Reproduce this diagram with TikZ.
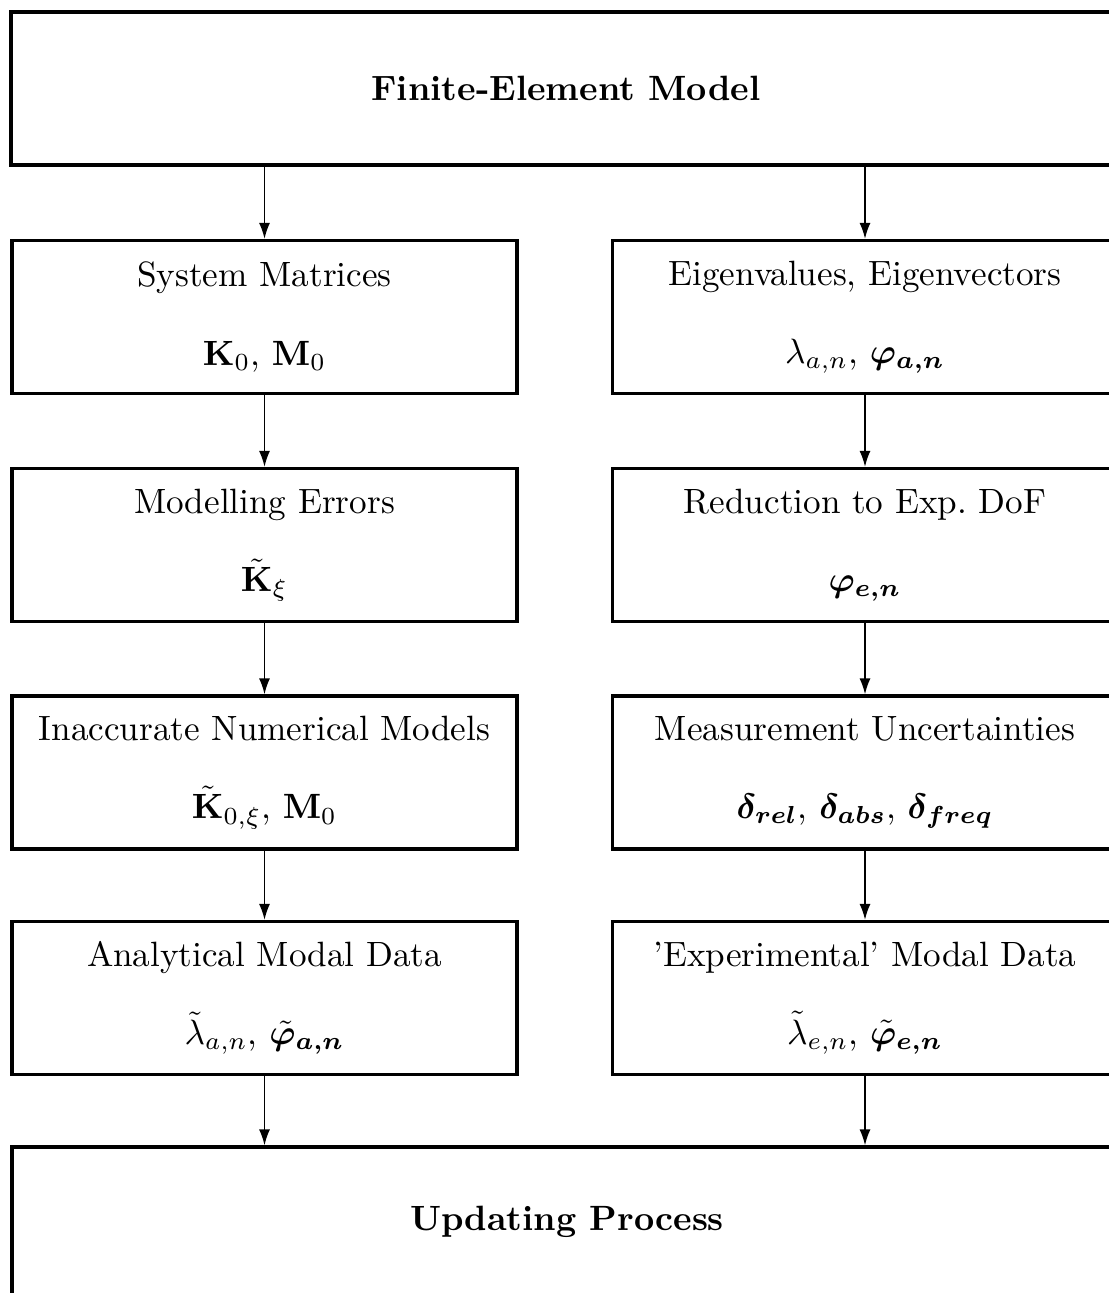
\documentclass[tikz,border=0pt]{standalone}
\usepackage{amsmath,amssymb,bm}
\usetikzlibrary{arrows.meta,positioning}
\tikzset{arr/.style={-{Latex[length=1.6mm,width=1.1mm]},line width=0.5pt}}

\begin{document}
\begin{tikzpicture}[
  blk/.style={draw,line width=0.9pt,minimum width=5.05cm,minimum height=1.53cm,align=center,inner sep=0pt},
  wide/.style={blk,minimum width=11.1cm}]
\useasboundingbox (0,0) rectangle (11.09,-12.93);
\node[wide,font=\bfseries] (fem) at (5.66,-0.885){Finite-Element Model};
\node[blk] (sys) at (2.645,-3.17){System Matrices\\[3.6mm] $\mathbf{K}_0$, $\mathbf{M}_0$};
\node[blk] (err) at (2.645,-5.45){Modelling Errors\\[3.6mm] $\tilde{\mathbf{K}}_\xi$};
\node[blk] (inm) at (2.645,-7.725){Inaccurate Numerical Models\\[3.6mm] $\tilde{\mathbf{K}}_{0,\xi}$, $\mathbf{M}_0$};
\node[blk] (ana) at (2.645,-9.98){Analytical Modal Data\\[3.6mm] $\tilde\lambda_{a,n}$, $\tilde{\bm{\varphi}}_{\bm{a,n}}$};
\node[blk] (eig) at (8.65,-3.17){Eigenvalues, Eigenvectors\\[3.6mm] $\lambda_{a,n}$, $\bm{\varphi_{a,n}}$};
\node[blk] (red) at (8.65,-5.45){Reduction to Exp.\ DoF\\[3.6mm] $\bm{\varphi_{e,n}}$};
\node[blk] (mea) at (8.65,-7.725){Measurement Uncertainties\\[3.6mm] $\bm{\delta_{rel}}$, $\bm{\delta_{abs}}$, $\bm{\delta_{freq}}$};
\node[blk] (exd) at (8.65,-9.98){'Experimental' Modal Data\\[3.6mm] $\tilde\lambda_{e,n}$, $\tilde{\bm{\varphi}}_{\bm{e,n}}$};
\node[wide,minimum height=1.5cm,font=\bfseries] (upd) at (5.67,-12.22){Updating Process};
% left branch
\draw[arr] (sys|-fem.south)--(sys); \draw[arr] (sys)--(err); \draw[arr] (err)--(inm); \draw[arr] (inm)--(ana);
\draw[arr] (ana)--(ana|-upd.north);
% right branch
\draw[arr] (eig|-fem.south)--(eig); \draw[arr] (eig)--(red); \draw[arr] (red)--(mea); \draw[arr] (mea)--(exd);
\draw[arr] (exd)--(exd|-upd.north);
\end{tikzpicture}
\end{document}
